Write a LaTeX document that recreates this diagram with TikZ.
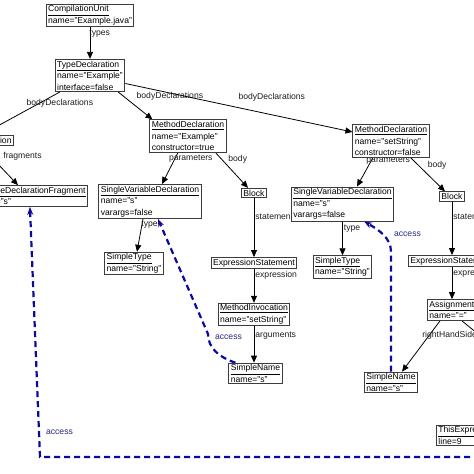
\documentclass[tikz,border=0pt]{standalone}
\usepackage{fontspec}
\setmainfont{Liberation Sans}
\usetikzlibrary{arrows.meta,backgrounds,calc}

\begin{document}
\begin{tikzpicture}[x=1pt,y=-1pt,
    astnode/.style={draw={rgb,255:red,60;green,60;blue,60},fill=white,line width=0.9pt,inner xsep=2pt,inner ysep=1.5pt,align=left,font=\fontsize{8.6}{11.5}\selectfont},
    child/.style={draw=black,line width=0.8pt,-{Triangle[length=7pt,width=6pt]}},
    rolelabel/.style={font=\fontsize{8.6}{10}\selectfont,text={rgb,255:red,30;green,30;blue,30},inner sep=1pt},
    access/.style={draw={rgb,255:red,10;green,10;blue,160},line width=2.2pt,dash pattern=on 6pt off 4pt,-{Stealth[length=8pt,width=6pt]}},
    accesslabel/.style={font=\fontsize{8.6}{10}\selectfont,text={rgb,255:red,40;green,40;blue,130},inner sep=1pt}]
  \useasboundingbox (0,0) rectangle (474,474);
  % Text Node
  \node[astnode] (cu) at (90,15.5) {\underline{CompilationUnit}\\name="Example.java"};
  \node[astnode] (td) at (90,75.5) {\underline{TypeDeclaration}\\name="Example"\\interface=false};
  \node[astnode,anchor=east] (fd) at (14,140.5) {FieldDeclaration};
  \node[astnode,anchor=east] (vdf) at (88,196) {\underline{VariableDeclarationFragment}\\name="s"};
  \node[astnode] (mdEx) at (188,136) {\underline{MethodDeclaration}\\name="Example"\\constructor=true};
  \node[astnode] (mdSet) at (391,141) {\underline{MethodDeclaration}\\name="setString"\\constructor=false};
  % Text Node
  \node[astnode] (svdL) at (150,201.5) {\underline{SingleVariableDeclaration}\\name="s"\\varargs=false};
  \node[astnode] (blkL) at (254,193) {Block};
  \node[astnode] (stL) at (134,263.5) {\underline{SimpleType}\\name="String"};
  \node[astnode] (esL) at (254,263) {ExpressionStatement};
  \node[astnode] (miL) at (254,314.5) {\underline{MethodInvocation}\\name="setString"};
  \node[astnode] (snL) at (255.5,373.5) {\underline{SimpleName}\\name="s"};
  % Text Node
  \node[astnode] (svdR) at (342.5,204) {\underline{SingleVariableDeclaration}\\name="s"\\varargs=false};
  \node[astnode] (blkR) at (452,196.5) {Block};
  \node[astnode] (stR) at (342.5,267) {\underline{SimpleType}\\name="String"};
  \node[astnode,anchor=west] (esR) at (408,261) {ExpressionStatement};
  \node[astnode,anchor=west] (asg) at (427,310) {\underline{Assignment}\\name="="};
  \node[astnode] (snR) at (391,382.5) {\underline{SimpleName}\\name="s"};
  \node[astnode,anchor=west] (te) at (436,435.5) {\underline{ThisExpression}\\line=9};
  \coordinate (lhs) at (500,352);
  \coordinate (accA) at (490,457);

  \begin{pgfonlayer}{background}
    \fill[white] (0,0) rectangle (474,474);
    % Straight Lines
    \draw[child] (cu) -- node[rolelabel,pos=0.2,anchor=west,xshift=-2pt] {types} (td);
    \draw[child] ([xshift=5pt]td.south west) -- node[rolelabel,pos=0.225,xshift=18pt,yshift=-1pt] {bodyDeclarations} (fd.north);
    \draw[child] ([xshift=-7pt]td.south east) -- node[rolelabel,xshift=34.5pt,yshift=9.5pt] {bodyDeclarations} ([xshift=3pt]mdEx.north west);
    \draw[child] ([yshift=-8pt]td.east) -- node[rolelabel,pos=0.645,yshift=18pt] {bodyDeclarations} ([yshift=9pt]mdSet.west);
    \draw[child] (fd.south) -- node[rolelabel,pos=0.28,anchor=west,xshift=11pt] {fragments} ([xshift=-70pt]vdf.north east);
    \draw[child] ([xshift=-10pt]mdEx.south) -- node[rolelabel,pos=0.14,xshift=15pt,yshift=-2pt] {parameters} ([xshift=12pt]svdL.north);
    \draw[child] ([xshift=-11pt]mdEx.south east) -- node[rolelabel,pos=0.16,xshift=17pt,yshift=-1pt] {body} ([xshift=-6pt]blkL.north);
    \draw[child] ([xshift=-7pt]svdL.south) -- node[rolelabel,pos=0.17,anchor=west,xshift=-2pt] {type} ([xshift=3pt]stL.north);
    \draw[child] (blkL) -- node[rolelabel,pos=0.32,anchor=west] {statements} (esL);
    \draw[child] (esL) -- node[rolelabel,pos=0.2,anchor=west] {expression} (miL);
    \draw[child] (miL.south) -- node[rolelabel,pos=0.26,anchor=west] {arguments} (miL.south |- snL.north);
    \draw[child] ([xshift=-18pt]mdSet.south) -- node[rolelabel,pos=0.05,xshift=16pt,yshift=-2pt] {parameters} ([xshift=14.5pt]svdR.north);
    \draw[child] ([xshift=-19pt]mdSet.south east) -- node[rolelabel,pos=0.19,xshift=20pt,yshift=-1pt] {body} ([xshift=-7pt]blkR.north);
    \draw[child] (svdR) -- node[rolelabel,pos=0.2,anchor=west] {type} (stR);
    \draw[child] (blkR.south) -- node[rolelabel,pos=0.28,anchor=west] {statements} (blkR.south |- esR.north);
    \draw[child] (blkR.south |- esR.south) -- node[rolelabel,pos=0.2,anchor=west] {expression} (blkR.south |- asg.north);
    \draw[child] ([xshift=13pt]asg.south west) -- node[rolelabel,pos=0.29,anchor=west,xshift=-8pt] {rightHandSide} ([xshift=11pt]snR.north);
    \draw[child] ([xshift=35pt]asg.south west) -- (lhs);
    % access links
    \draw[access] (accA) -- (40,457) -- node[accesslabel,pos=0.1,anchor=west,xshift=5pt] {access} (vdf.south);
    \draw[access] ([xshift=7pt]snL.north west) .. controls +(-16,-5) and +(0,14) .. (208,334) node[accesslabel,anchor=west,xshift=5pt,yshift=-3pt] {access} -- ([xshift=8pt]svdL.south);
    \draw[access] (snR.north) -- ++(0,-120) node[accesslabel,anchor=west,xshift=1pt,yshift=17pt] {access} .. controls +(0,-14) and +(14,8) .. ([xshift=-30pt]svdR.south east);
  \end{pgfonlayer}
\end{tikzpicture}
\end{document}
